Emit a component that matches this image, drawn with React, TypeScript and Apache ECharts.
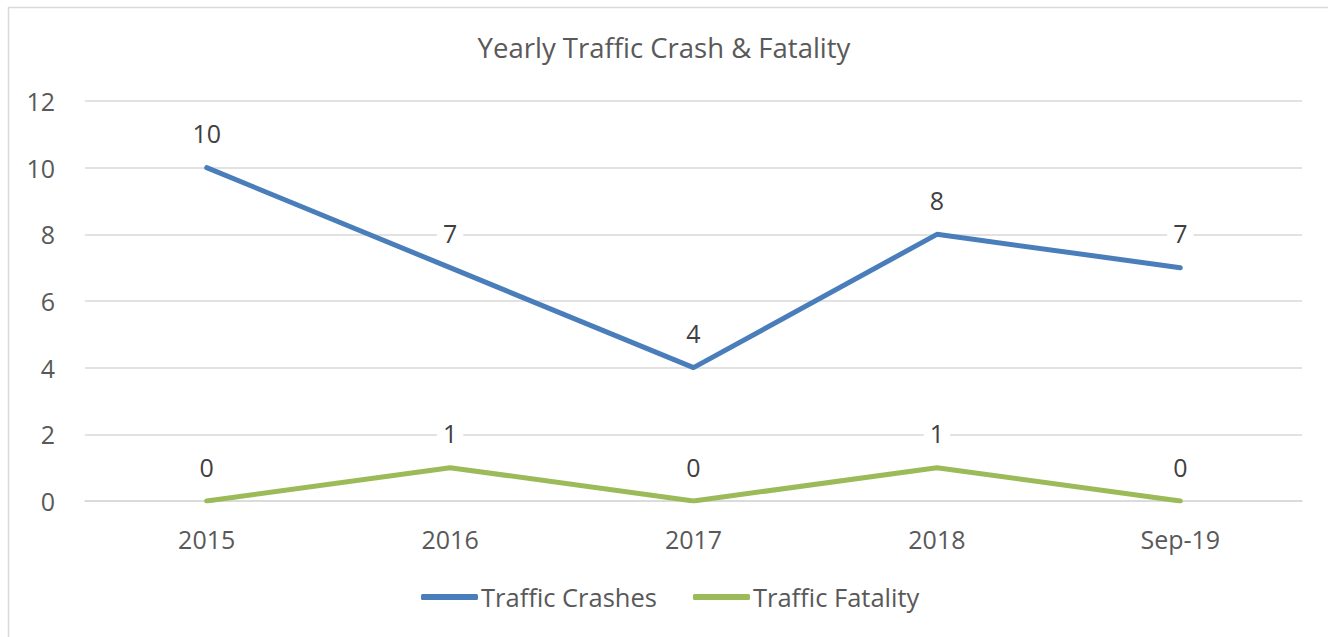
import React, { useEffect, useRef } from "react";
import * as echarts from "echarts";

const categories = ["2015", "2016", "2017", "2018", "Sep-19"];
const crashes = [10, 7, 4, 8, 7];
const fatality = [0, 1, 0, 1, 0];
const yTicks = { min: 0, max: 12, interval: 2 };

const FONT = "'Open Sans', sans-serif";
const TEXT = "#595959";

export default function App() {
  const ref = useRef<HTMLDivElement>(null);
  useEffect(() => {
    document.body.style.overflow = "hidden";
    const chart = echarts.init(ref.current!, null, { renderer: "svg" });
    const label = {
      show: true,
      position: "top" as const,
      distance: 22,
      color: "#404040",
      fontFamily: FONT,
      fontSize: 25,
      backgroundColor: "#fff",
      padding: [0, 6],
    };
    chart.setOption({
      animation: false,
      backgroundColor: "#fff",
      textStyle: { fontFamily: FONT },
      graphic: [
        {
          type: "rect",
          shape: { x: 8.5, y: 7.5, width: 1330, height: 640 },
          style: { fill: "none", stroke: "#d9d9d9", lineWidth: 1.5 },
          silent: true,
        },
      ],
      title: {
        text: "Yearly Traffic Crash & Fatality",
        left: "center",
        top: 28,
        textStyle: { color: TEXT, fontSize: 27.5, fontWeight: "normal", fontFamily: FONT },
      },
      legend: {
        bottom: 22,
        left: 416,
        itemWidth: 57,
        itemHeight: 6,
        itemGap: 36,
        icon: "roundRect",
        textStyle: { color: TEXT, fontSize: 25.5, fontFamily: FONT, padding: [0, 0, 0, -2] },
        data: ["Traffic Crashes", "Traffic Fatality"],
      },
      grid: { left: 85, right: 26, top: 101, bottom: 136 },
      xAxis: {
        type: "category",
        data: categories,
        boundaryGap: true,
        axisLine: { show: true, lineStyle: { color: "#d9d9d9", width: 1.5 } },
        axisTick: { show: false },
        axisLabel: { color: TEXT, fontSize: 25, fontFamily: FONT, margin: 25 },
      },
      yAxis: {
        type: "value",
        min: yTicks.min,
        max: yTicks.max,
        interval: yTicks.interval,
        axisLine: { show: false },
        axisTick: { show: false },
        axisLabel: { color: TEXT, fontSize: 25, fontFamily: FONT, margin: 30 },
        splitLine: { lineStyle: { color: "#d9d9d9", width: 1.5 } },
      },
      series: [
        {
          name: "Traffic Crashes",
          type: "line",
          data: crashes,
          symbol: "circle",
          symbolSize: 0,
          showAllSymbol: true,
          lineStyle: { color: "#4a7ebb", width: 5, cap: "round" },
          itemStyle: { color: "#4a7ebb" },
          label,
          z: 3,
        },
        {
          name: "Traffic Fatality",
          type: "line",
          data: fatality,
          symbol: "circle",
          symbolSize: 0,
          showAllSymbol: true,
          lineStyle: { color: "#9bbb59", width: 5, cap: "round" },
          itemStyle: { color: "#9bbb59" },
          label,
          z: 3,
        },
      ],
    });
    return () => chart.dispose();
  }, []);
  return (
    <div
      ref={ref}
      style={{ position: "fixed", left: 0, top: 0, width: 1328, height: 637 }}
    />
  );
}
